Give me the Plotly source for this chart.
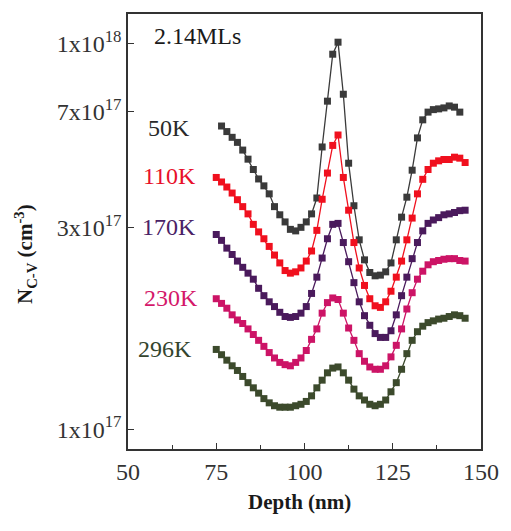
import plotly.graph_objects as go

# Depth grid (nm)
depth = [75.0, 76.5, 78.0, 79.5, 81.0, 82.5, 84.0, 85.5, 87.0, 88.5, 90.0, 91.5,
         93.0, 94.5, 96.0, 97.5, 99.0, 100.5, 102.0, 103.5, 105.0, 106.5, 108.0, 109.5,
         111.0, 112.5, 114.0, 115.5, 117.0, 118.5, 120.0, 121.5, 123.0, 124.5, 126.0, 127.5,
         129.0, 130.5, 132.0, 133.5, 135.0, 136.5, 138.0, 139.5, 141.0, 142.5, 144.0, 145.5]

# N_C-V in units of 1e17 cm^-3
n_50K = [None, 6.12, 5.92, 5.72, 5.55, 5.30, 5.02, 4.72, 4.46, 4.28, 4.08, 3.78,
         3.60, 3.45, 3.30, 3.27, 3.34, 3.45, 3.62, 3.98, 5.40, 7.10, 9.40, 10.1,
         7.40, 4.90, 3.80, 3.10, 2.75, 2.55, 2.50, 2.51, 2.56, 2.70, 3.10, 3.55,
         4.00, 4.70, 5.70, 6.35, 6.65, 6.75, 6.78, 6.82, 6.90, 6.85, 6.65, None]
n_110K = [4.50, 4.38, 4.25, 4.10, 3.94, 3.78, 3.62, 3.40, 3.25, 3.12, 2.98, 2.83,
          2.70, 2.58, 2.54, 2.56, 2.62, 2.73, 2.90, 3.28, 3.95, 4.62, 5.45, 5.80,
          4.50, 3.70, 3.05, 2.62, 2.36, 2.18, 2.09, 2.07, 2.14, 2.28, 2.48, 2.73,
          3.10, 3.53, 4.08, 4.45, 4.72, 4.90, 4.97, 5.01, 5.01, 5.08, 5.05, 4.92]
n_170K = [3.20, 3.09, 2.95, 2.84, 2.73, 2.63, 2.54, 2.45, 2.32, 2.22, 2.14, 2.08,
          2.01, 1.96, 1.95, 1.96, 2.00, 2.08, 2.25, 2.48, 2.78, 3.12, 3.40, 3.42,
          3.05, 2.72, 2.40, 2.14, 1.97, 1.86, 1.77, 1.73, 1.73, 1.80, 1.98, 2.22,
          2.48, 2.77, 3.05, 3.27, 3.42, 3.49, 3.54, 3.60, 3.62, 3.65, 3.69, 3.70]
n_230K = [2.18, 2.12, 2.06, 1.98, 1.92, 1.88, 1.82, 1.76, 1.70, 1.64, 1.58, 1.53,
          1.49, 1.47, 1.46, 1.49, 1.53, 1.60, 1.71, 1.82, 2.00, 2.13, 2.19, 2.17,
          2.00, 1.83, 1.70, 1.57, 1.50, 1.45, 1.43, 1.43, 1.46, 1.54, 1.65, 1.82,
          2.05, 2.26, 2.45, 2.57, 2.67, 2.72, 2.74, 2.76, 2.77, 2.77, 2.74, 2.73]
n_296K = [1.61, 1.56, 1.51, 1.46, 1.42, 1.37, 1.32, 1.28, 1.24, 1.20, 1.17, 1.15,
          1.14, 1.14, 1.14, 1.15, 1.16, 1.18, 1.22, 1.28, 1.34, 1.40, 1.44, 1.45,
          1.40, 1.34, 1.27, 1.22, 1.19, 1.16, 1.15, 1.16, 1.19, 1.25, 1.32, 1.43,
          1.57, 1.70, 1.79, 1.85, 1.89, 1.91, 1.93, 1.94, 1.96, 1.98, 1.97, 1.94]

series_names = ["50K", "110K", "170K", "230K", "296K"]
series_values = [n_50K, n_110K, n_170K, n_230K, n_296K]
series_colors = ["#3a3a3a", "#f0101e", "#4a1a5c", "#cc1466", "#3c4a2c"]
label_colors = ["#2a2a2a", "#e8102a", "#4a2266", "#d4186a", "#34452e"]
# label positions (paper coords)
label_pos = [(0.115, 0.739), (0.118, 0.627), (0.115, 0.510), (0.121, 0.348), (0.104, 0.231)]

y_tickvals = [1.0, 3.33, 6.67, 10.0]
y_ticktext = ["1x10<sup>17</sup>", "3x10<sup>17</sup>", "7x10<sup>17</sup>", "1x10<sup>18</sup>"]
x_tickvals = [50, 75, 100, 125, 150]

serif = "Liberation Serif, Times New Roman, serif"

fig = go.Figure()
for name, vals, col in zip(series_names, series_values, series_colors):
    fig.add_trace(go.Scatter(
        x=depth, y=vals, name=name, mode="lines+markers",
        line=dict(color=col, width=1.3),
        marker=dict(symbol="square", size=7, color=col),
        connectgaps=False, showlegend=False,
    ))

annotations = []
for name, (px, py), col in zip(series_names, label_pos, label_colors):
    annotations.append(dict(x=px, y=py, xref="paper", yref="paper", text=name,
                            showarrow=False, xanchor="center", yanchor="middle",
                            font=dict(family=serif, size=24, color=col)))
annotations.append(dict(x=0.198, y=0.950, xref="paper", yref="paper", text="2.14MLs",
                        showarrow=False, xanchor="center", yanchor="middle",
                        font=dict(family=serif, size=24, color="#1a1a1a")))
annotations.append(dict(x=-0.291, y=0.449, xref="paper", yref="paper",
                        text="<b>N<sub>C-V</sub> (cm<sup>-3</sup>)</b>", textangle=-90,
                        showarrow=False, xanchor="center", yanchor="middle",
                        font=dict(family=serif, size=21, color="#1a1a1a")))
annotations.append(dict(x=0.486, y=-0.121, xref="paper", yref="paper",
                        text="<b>Depth (nm)</b>",
                        showarrow=False, xanchor="center", yanchor="middle",
                        font=dict(family=serif, size=21, color="#1a1a1a")))

fig.update_layout(
    width=511, height=531,
    margin=dict(l=128, r=19, t=12, b=82),
    paper_bgcolor="white", plot_bgcolor="white",
    annotations=annotations,
    xaxis=dict(range=[50, 150], tickvals=x_tickvals, ticks="inside", ticklen=6,
               tickwidth=1.3, tickcolor="#333", showline=True, linecolor="#333",
               linewidth=1.5, mirror=True, showgrid=False, zeroline=False,
               minor=dict(dtick=12.5, ticks="inside", ticklen=4, tickwidth=1.2,
                          tickcolor="#333", showgrid=False),
               tickfont=dict(family=serif, size=24, color="#333")),
    yaxis=dict(type="log", range=[-0.0516, 1.0775], tickvals=y_tickvals,
               ticktext=y_ticktext, ticks="inside", ticklen=6, tickwidth=1.3,
               tickcolor="#333", showline=True, linecolor="#333", linewidth=1.5,
               mirror=True, showgrid=False, zeroline=False,
               tickfont=dict(family=serif, size=24, color="#333")),
)

fig.write_html("out.html")
